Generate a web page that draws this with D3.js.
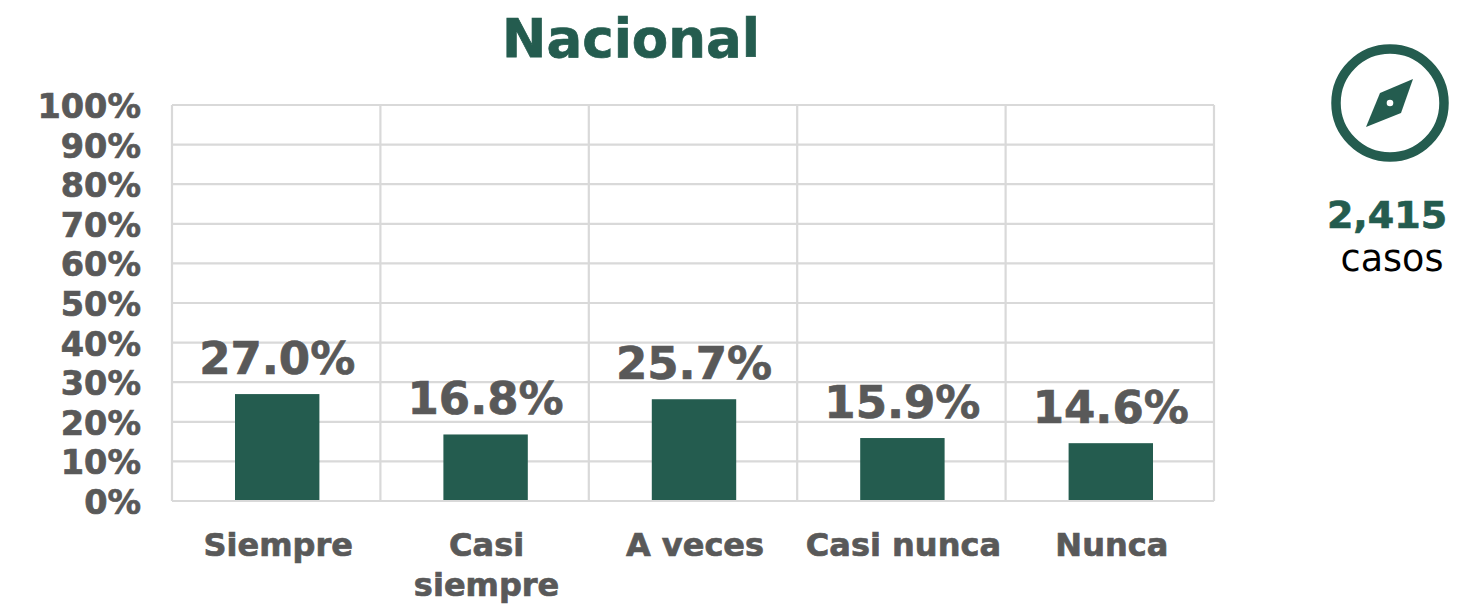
<!DOCTYPE html>
<html><head><meta charset="utf-8">
<script src="https://cdn.jsdelivr.net/npm/d3@7"></script>
<style>html,body{margin:0;padding:0;background:#fff}svg{display:block}text{font-family:"DejaVu Sans",sans-serif}</style>
</head><body><svg id="c" width="1461" height="605"></svg>
<script>
const categories=[["Siempre"],["Casi","siempre"],["A veces"],["Casi nunca"],["Nunca"]];
const values=[27.0,16.8,25.7,15.9,14.6];
const valueLabels=["27.0%","16.8%","25.7%","15.9%","14.6%"];
const yTicks=[0,10,20,30,40,50,60,70,80,90,100];
const titleText="Nacional", casesCount="2,415", casesWord="casos";
const green="#245c4f", grey="#595959", gridC="#d9d9d9";
const svg=d3.select("#c");
const x=d3.scaleBand().domain(d3.range(values.length)).range([172,1214]).paddingInner(0).paddingOuter(0);
const y=d3.scaleLinear().domain([0,100]).range([501,105]);
const g=svg.append("g");
g.selectAll("line.h").data(yTicks).join("line").attr("class","h")
 .attr("x1",172).attr("x2",1214).attr("y1",d=>y(d)).attr("y2",d=>y(d))
 .attr("stroke",gridC).attr("stroke-width",2.2);
g.selectAll("line.v").data(d3.range(values.length+1)).join("line").attr("class","v")
 .attr("x1",d=>172+d*x.bandwidth()).attr("x2",d=>172+d*x.bandwidth()).attr("y1",105).attr("y2",501)
 .attr("stroke",gridC).attr("stroke-width",2.2);
const bw=x.bandwidth()*0.405;
g.selectAll("rect").data(values).join("rect")
 .attr("x",(d,i)=>x(i)+x.bandwidth()/2-bw/2+1).attr("width",bw)
 .attr("y",d=>y(d)).attr("height",d=>y(0)-y(d)-1).attr("fill",green);
const heavy=s=>s.attr("font-weight",700).attr("stroke-width",0.7).attr("paint-order","stroke");
g.selectAll("text.y").data(yTicks).join("text").attr("class","y")
 .attr("x",141).attr("y",d=>y(d)+13).attr("text-anchor","end")
 .attr("font-size",33.5).attr("fill",grey).attr("stroke",grey).call(heavy).text(d=>d+"%");
g.selectAll("text.v").data(values).join("text").attr("class","v")
 .attr("x",(d,i)=>x(i)+x.bandwidth()/2+1).attr("y",d=>y(d)-20).attr("text-anchor","middle")
 .attr("font-size",45).attr("fill",grey).attr("stroke",grey).call(heavy).text((d,i)=>valueLabels[i]);
const cat=g.selectAll("text.c").data(categories).join("text").attr("class","c")
 .attr("text-anchor","middle").attr("font-size",32).attr("fill",grey).attr("stroke",grey).call(heavy);
cat.selectAll("tspan").data((d,i)=>d.map(t=>({t,i}))).join("tspan")
 .attr("x",d=>x(d.i)+x.bandwidth()/2+2).attr("y",(d,j)=>556+j*40).text(d=>d.t);
svg.append("text").attr("x",631).attr("y",57).attr("text-anchor","middle")
 .attr("font-size",53).attr("fill",green).attr("stroke",green).call(heavy).text(titleText);
const ic=svg.append("g").attr("transform","translate(1390,103)");
ic.append("circle").attr("r",54).attr("fill","none").attr("stroke",green).attr("stroke-width",9.5);
ic.append("path").attr("d","M23,-24 L11,10 L-24,24 L-10,-10 Z").attr("fill",green);
ic.append("circle").attr("r",3.3).attr("fill","#fff");
svg.append("text").attr("x",1387).attr("y",228).attr("text-anchor","middle")
 .attr("font-size",38).attr("fill",green).attr("stroke",green).call(heavy).text(casesCount);
svg.append("text").attr("x",1392).attr("y",271).attr("text-anchor","middle")
 .attr("font-size",36.5).attr("fill","#000").text(casesWord);
</script></body></html>
